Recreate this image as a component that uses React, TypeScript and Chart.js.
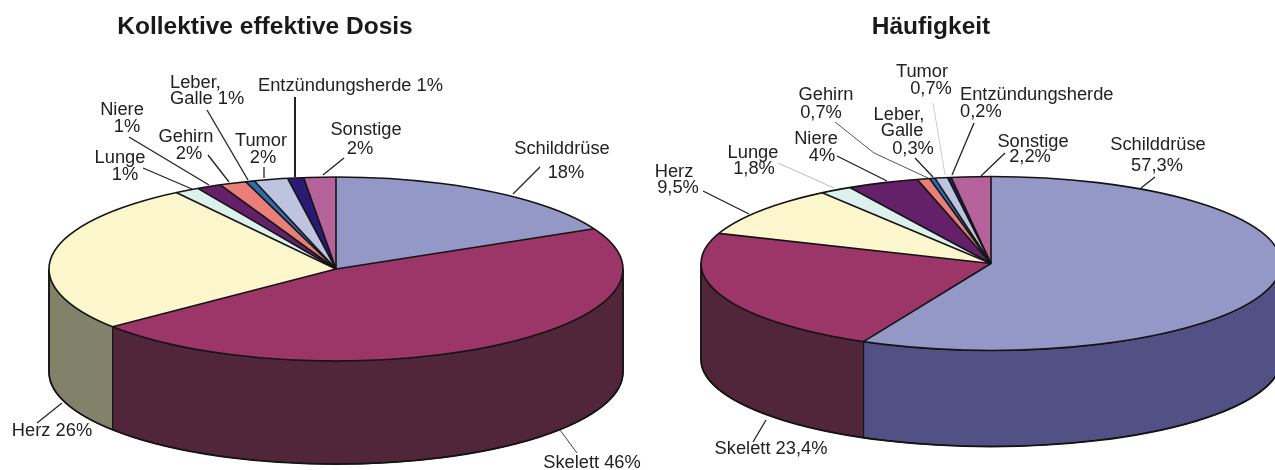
import React, { useEffect, useRef } from "react";
import { Chart, registerables } from "chart.js";

Chart.register(...registerables);

// ---- data ----
const categories = ["Schilddrüse", "Skelett", "Herz", "Lunge", "Niere", "Gehirn", "Leber, Galle", "Tumor", "Entzündungsherde", "Sonstige"];
const dosisValues = [17.8, 46.4, 26.4, 1.4, 1.4, 1.5, 0.5, 1.9, 0.9, 1.8];
const haeufigkeitValues = [57.3, 23.4, 9.5, 1.8, 4, 0.7, 0.3, 0.7, 0.2, 2.2];
const topColors = ["#9398C6", "#9C3568", "#FBF6CC", "#DCF0EE", "#642068", "#E97F78", "#2F6BAF", "#BEC4E0", "#2A1A73", "#B5629A"];
const wallColors = ["#515186", "#52263A", "#82826A", "#6E7877", "#321034", "#743F3C", "#173558", "#5F6270", "#150D39", "#5A314D"];

// ---- layout of each pie, in page pixels ----
type Callout = { t: [string, number, number, ("center" | "left")?][]; p: number[][]; c?: string; w?: number };
type Layout = { offset: number; width: number; cx: number; cy: number; rx: number; ry: number; depth: number; titleX: number; callouts: Callout[] };

const dosisCallouts: Callout[] = [
  { t: [["Schilddrüse", 562, 149], ["18%", 566, 173]], p: [[540, 167], [513, 194]] },
  { t: [["Skelett 46%", 592, 463]], p: [[577, 453], [560, 430]], c: "#444", w: 1 },
  { t: [["Herz 26%", 52, 431]], p: [[37, 423], [62, 403]] },
  { t: [["Lunge", 120, 158], ["1%", 125, 175]], p: [[143, 168], [192, 189]] },
  { t: [["Niere", 122, 110], ["1%", 127, 127]], p: [[129, 137], [209, 185]] },
  { t: [["Gehirn", 186, 137], ["2%", 189, 154]], p: [[208, 155], [229, 182]] },
  { t: [["Leber,", 170, 83, "left"], ["Galle 1%", 170, 99, "left"]], p: [[207, 110], [248, 180]] },
  { t: [["Tumor", 261, 141], ["2%", 263, 158]], p: [[264, 167], [264, 178]] },
  { t: [["Entzündungsherde 1%", 258, 86, "left"]], p: [[295, 97], [295, 177]], w: 2 },
  { t: [["Sonstige", 366, 130], ["2%", 360, 149]], p: [[344, 158], [323, 175]] },
];
const haeufigkeitCallouts: Callout[] = [
  { t: [["Schilddrüse", 1158, 145], ["57,3%", 1157, 166]], p: [[1155, 177], [1141, 188]] },
  { t: [["Skelett 23,4%", 771, 449]], p: [[753, 442], [766, 420]] },
  { t: [["Herz", 674, 172], ["9,5%", 678, 188]], p: [[703, 191], [749, 214]] },
  { t: [["Lunge", 753, 153], ["1,8%", 754, 169]], p: [[778, 163], [834, 188]], c: "#bbb", w: 1 },
  { t: [["Niere", 816, 139], ["4%", 822, 156]], p: [[837, 156], [887, 181]] },
  { t: [["Gehirn", 826, 95], ["0,7%", 821, 113]], p: [[835, 122], [874, 153], [928, 178]], c: "#555", w: 1 },
  { t: [["Leber,", 899, 115], ["Galle", 902, 131], ["0,3%", 913, 149]], p: [[915, 158], [933, 177]] },
  { t: [["Tumor", 922, 72], ["0,7%", 931, 89]], p: [[933, 103], [945, 175]], c: "#ccc", w: 1 },
  { t: [["Entzündungsherde", 960, 95, "left"], ["0,2%", 960, 112, "left"]], p: [[974, 123], [952, 175]] },
  { t: [["Sonstige", 1033, 142], ["2,2%", 1030, 157]], p: [[1005, 153], [981, 176]] },
];

const dosisLayout: Layout = { offset: 0, width: 648, cx: 336, cy: 269, rx: 287, ry: 92, depth: 103, titleX: 265, callouts: dosisCallouts };
const haeufigkeitLayout: Layout = { offset: 648, width: 627, cx: 991, cy: 263.5, rx: 290, ry: 87, depth: 96, titleX: 931, callouts: haeufigkeitCallouts };

const FONT = '"Liberation Sans", Arial, sans-serif';
const INK = "#222";
const EDGE = "#141414";

function makePie3d(l: Layout) {
  const cx = l.cx - l.offset;
  return {
    id: "pie3d",
    afterLayout(chart: any) {
      const half = chart.titleBlock.width / 2;
      chart.titleBlock.left = l.titleX - l.offset - half;
      chart.titleBlock.right = l.titleX - l.offset + half;
    },
    beforeDatasetsDraw(chart: any) {
      const ctx = chart.ctx;
      const arcs = chart.getDatasetMeta(0).data;
      ctx.save();
      ctx.lineJoin = "round";
      arcs.forEach((arc: any, i: number) => {
        const a = Math.max(arc.startAngle, 0);
        const b = Math.min(arc.endAngle, Math.PI);
        if (b <= a) return;
        ctx.beginPath();
        ctx.ellipse(cx, l.cy, l.rx, l.ry, 0, a, b);
        ctx.ellipse(cx, l.cy + l.depth, l.rx, l.ry, 0, b, a, true);
        ctx.closePath();
        ctx.fillStyle = wallColors[i];
        ctx.fill();
        ctx.lineWidth = 1.1;
        ctx.strokeStyle = EDGE;
        ctx.stroke();
      });
      // heavier outer silhouette of the cylinder
      ctx.beginPath();
      ctx.moveTo(cx - l.rx, l.cy);
      ctx.ellipse(cx, l.cy + l.depth, l.rx, l.ry, 0, Math.PI, 0, true);
      ctx.lineTo(cx + l.rx, l.cy);
      ctx.lineWidth = 1.8;
      ctx.stroke();
      ctx.restore();
      const first = arcs[0];
      ctx.save();
      ctx.translate(cx, l.cy);
      ctx.scale(l.rx / first.outerRadius, l.ry / first.outerRadius);
      ctx.translate(-first.x, -first.y);
    },
    afterDatasetsDraw(chart: any) {
      const ctx = chart.ctx;
      ctx.restore();
      const arcs = chart.getDatasetMeta(0).data;
      ctx.save();
      ctx.strokeStyle = EDGE;
      ctx.lineWidth = 1.6;
      ctx.lineJoin = "round";
      arcs.forEach((arc: any) => {
        ctx.beginPath();
        ctx.moveTo(cx, l.cy);
        ctx.lineTo(cx + l.rx * Math.cos(arc.startAngle), l.cy + l.ry * Math.sin(arc.startAngle));
        ctx.stroke();
      });
      ctx.beginPath();
      ctx.ellipse(cx, l.cy, l.rx, l.ry, 0, 0, Math.PI * 2);
      ctx.stroke();
      l.callouts.forEach((c) => {
        ctx.beginPath();
        c.p.forEach(([x, y], i) => (i ? ctx.lineTo(x - l.offset, y) : ctx.moveTo(x - l.offset, y)));
        ctx.strokeStyle = c.c ?? "#222";
        ctx.lineWidth = c.w ?? 1.3;
        ctx.stroke();
        ctx.fillStyle = INK;
        ctx.font = `18.3px ${FONT}`;
        ctx.textBaseline = "middle";
        c.t.forEach(([s, x, y, align]) => {
          ctx.textAlign = align ?? "center";
          ctx.fillText(s, x - l.offset, y);
        });
      });
      ctx.restore();
    },
  };
}

function Pie({ values, layout, title }: { values: number[]; layout: Layout; title: string }) {
  const ref = useRef<HTMLCanvasElement>(null);
  useEffect(() => {
    const chart = new Chart(ref.current!, {
      type: "pie",
      data: {
        labels: categories,
        datasets: [{ data: values, backgroundColor: topColors, borderWidth: 0 }],
      },
      options: {
        responsive: false,
        animation: false,
        layout: { padding: 0 },
        plugins: {
          legend: { display: false },
          tooltip: { enabled: false },
          title: {
            display: true,
            text: title,
            color: "#1a1a1a",
            font: { family: FONT, size: 24.5, weight: "bold" },
            padding: { top: 13, bottom: 4 },
          },
        },
      },
      plugins: [makePie3d(layout)],
    } as any);
    return () => chart.destroy();
  }, []);
  return (
    <canvas
      ref={ref}
      width={layout.width}
      height={470}
      style={{ position: "absolute", left: layout.offset, top: 0, width: layout.width, height: 470, display: "block" }}
    />
  );
}

export default function App() {
  return (
    <div style={{ position: "fixed", left: 0, top: 0, width: 1275, height: 470, overflow: "hidden", background: "#fff" }}>
      <Pie values={dosisValues} layout={dosisLayout} title="Kollektive effektive Dosis" />
      <Pie values={haeufigkeitValues} layout={haeufigkeitLayout} title="Häufigkeit" />
    </div>
  );
}
